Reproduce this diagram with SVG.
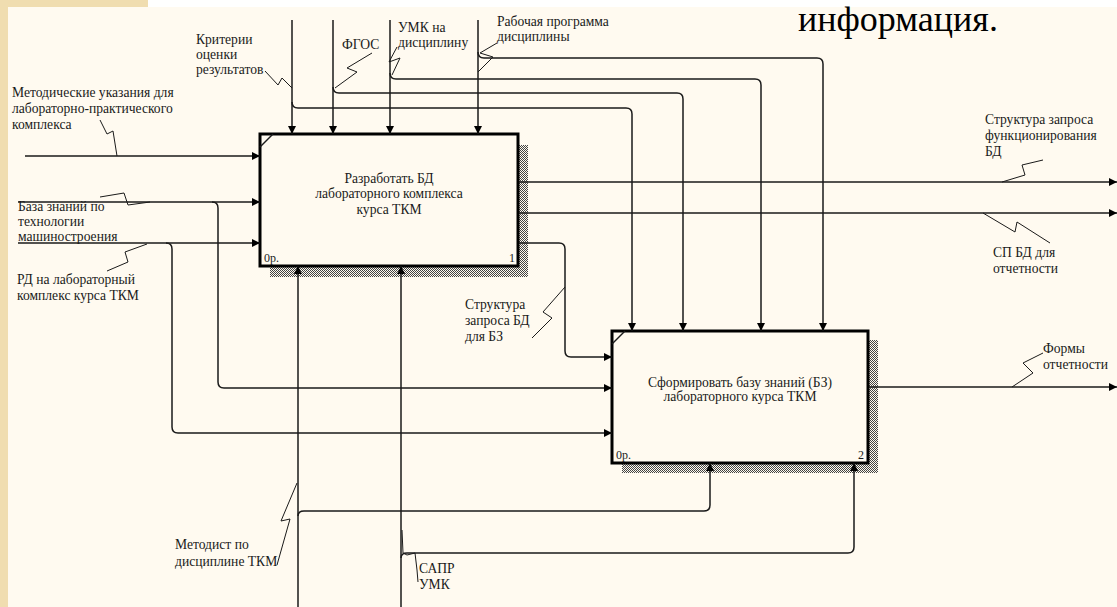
<svg xmlns="http://www.w3.org/2000/svg" width="1117" height="607" viewBox="0 0 1117 607">
<style>
.bg{fill:#fffaf0}
.ln{fill:none;stroke:#1a1a1a;stroke-width:1.5}
.sq{fill:none;stroke:#1a1a1a;stroke-width:1}
.box{fill:#fffaf0;stroke:#000;stroke-width:3}
.t{font-family:"Liberation Serif","Times New Roman",serif;font-size:13.6px;fill:#1a1a1a}
.c{text-anchor:middle}
.s{font-size:12px}
.big{font-family:"Liberation Serif","Times New Roman",serif;font-size:36px;fill:#000}
</style>
<defs>
<pattern id="hatch" width="2" height="2" patternUnits="userSpaceOnUse">
<rect width="2" height="2" fill="#fffaf0"/>
<rect width="1" height="1" fill="#444"/>
<rect x="1" y="1" width="1" height="1" fill="#444"/>
</pattern>
<marker id="ar" viewBox="0 0 10 10" refX="10" refY="5" markerWidth="9" markerHeight="8" markerUnits="userSpaceOnUse" orient="auto">
<path d="M0,0 L10,5 L0,10 Z" fill="#000"/>
</marker>
</defs>
<rect x="0" y="0" width="1117" height="607" fill="#ffffff"/>
<rect x="0" y="7" width="1117" height="600" class="bg"/>
<rect x="0" y="0" width="8" height="607" fill="#f0ddb0"/>
<rect x="0" y="0" width="148" height="7" fill="#f0ddb0"/>
<text class="big" x="798" y="31">информация.</text>

<g id="node1">
<rect x="518" y="145" width="10" height="131" fill="url(#hatch)"/>
<rect x="270" y="266" width="258" height="11" fill="url(#hatch)"/>
<rect class="box" x="260" y="134" width="258" height="132"/>
<path class="ln" d="M260,147 L273,134"/>
<text class="t c" x="389" y="183">Разработать БД</text>
<text class="t c" x="389" y="198">лабораторного комплекса</text>
<text class="t c" x="389" y="214">курса ТКМ</text>
<text class="t s" x="264" y="262">0р.</text>
<text class="t s" x="509" y="262">1</text>
</g>

<g id="node2">
<rect x="868" y="340" width="10" height="133" fill="url(#hatch)"/>
<rect x="622" y="463" width="256" height="10" fill="url(#hatch)"/>
<rect class="box" x="612" y="331" width="256" height="132"/>
<path class="ln" d="M612,344 L625,331"/>
<text class="t c" x="740" y="387">Сформировать базу знаний (БЗ)</text>
<text class="t c" x="740" y="401">лабораторного курса ТКМ</text>
<text class="t s" x="616" y="459">0р.</text>
<text class="t s" x="858" y="459">2</text>
</g>

<g id="connectors">
<path class="ln" d="M292,20 V134" marker-end="url(#ar)"/>
<path class="ln" d="M292,102 Q292,108 298,108 H626 Q632,108 632,114 V331" marker-end="url(#ar)"/>
<path class="ln" d="M333,20 V134" marker-end="url(#ar)"/>
<path class="ln" d="M333,87 Q333,93 339,93 H677 Q683,93 683,99 V331" marker-end="url(#ar)"/>
<path class="ln" d="M390,20 V134" marker-end="url(#ar)"/>
<path class="ln" d="M390,73 Q390,79 396,79 H755 Q761,79 761,85 V331" marker-end="url(#ar)"/>
<path class="ln" d="M478,20 V134" marker-end="url(#ar)"/>
<path class="ln" d="M478,52 Q478,58 484,58 H817 Q823,58 823,64 V331" marker-end="url(#ar)"/>
<path class="ln" d="M25,156 H260" marker-end="url(#ar)"/>
<path class="ln" d="M18,202 H260" marker-end="url(#ar)"/>
<path class="ln" d="M212,202 Q218,202 218,208 V382 Q218,388 224,388 H612" marker-end="url(#ar)"/>
<path class="ln" d="M18,243 H260" marker-end="url(#ar)"/>
<path class="ln" d="M166,243 Q172,243 172,249 V427 Q172,433 178,433 H612" marker-end="url(#ar)"/>
<path class="ln" d="M519,182 H1117" marker-end="url(#ar)"/>
<path class="ln" d="M519,213 H1117" marker-end="url(#ar)"/>
<path class="ln" d="M519,243 H559 Q565,243 565,249 V351 Q565,357 571,357 H612" marker-end="url(#ar)"/>
<path class="ln" d="M869,387 H1117" marker-end="url(#ar)"/>
<path class="ln" d="M298,607 V266" marker-end="url(#ar)"/>
<path class="ln" d="M401,607 V266" marker-end="url(#ar)"/>
<path class="ln" d="M298,516 Q298,511 304,511 H704 Q710,511 710,505 V463" marker-end="url(#ar)"/>
<path class="ln" d="M401,558 Q401,553 407,553 H848 Q854,553 854,547 V463" marker-end="url(#ar)"/>
<path class="sq" d="M265,71 L278,85 L282,78 L292,88"/>
<path class="sq" d="M372,53 L347,68 L357,72 L335,88"/>
<path class="sq" d="M397,47 L389,62 L400,58 L392,75"/>
<path class="sq" d="M497,43 L480,53 L493,57 L478,72"/>
<path class="sq" d="M100,120 L107,134 L113,131 L117,156"/>
<path class="sq" d="M100,197 L124,193 L128,205 L150,202"/>
<path class="sq" d="M147,244 L125,252 L128,262 L107,271"/>
<path class="sq" d="M532,338 L552,318 L543,312 L565,287"/>
<path class="sq" d="M1043,160 L1022,165 L1025,175 L1002,182"/>
<path class="sq" d="M983,213 L1015,232 L1017,222 L1050,243"/>
<path class="sq" d="M1043,353 L1023,363 L1033,373 L1012,387"/>
<path class="sq" d="M277,565 L290,519 L281,521 L297,483"/>
<path class="sq" d="M402,530 L403,553 L407,555 L415,553 L417,570 L418,582"/>
</g>

<g id="labels">
<text class="t" x="196" y="44">Критерии</text>
<text class="t" x="196" y="59">оценки</text>
<text class="t" x="196" y="74">результатов</text>
<text class="t" x="342" y="49">ФГОС</text>
<text class="t" x="398" y="32">УМК на</text>
<text class="t" x="398" y="47">дисциплину</text>
<text class="t" x="497" y="26">Рабочая программа</text>
<text class="t" x="497" y="41">дисциплины</text>
<text class="t" x="12" y="97">Методические указания для</text>
<text class="t" x="12" y="113">лабораторно-практического</text>
<text class="t" x="12" y="129">комплекса</text>
<text class="t" x="18" y="211">База знаний по</text>
<text class="t" x="18" y="226">технологии</text>
<text class="t" x="18" y="241">машиностроения</text>
<text class="t" x="17" y="284">РД на лабораторный</text>
<text class="t" x="17" y="300">комплекс курса ТКМ</text>
<text class="t" x="465" y="309">Структура</text>
<text class="t" x="465" y="325">запроса БД</text>
<text class="t" x="465" y="341">для БЗ</text>
<text class="t" x="985" y="124">Структура запроса</text>
<text class="t" x="985" y="140">функционирования</text>
<text class="t" x="985" y="156">БД</text>
<text class="t" x="993" y="257">СП БД для</text>
<text class="t" x="993" y="273">отчетности</text>
<text class="t" x="1043" y="353">Формы</text>
<text class="t" x="1043" y="369">отчетности</text>
<text class="t" x="175" y="549">Методист по</text>
<text class="t" x="175" y="566">дисциплине ТКМ</text>
<text class="t" x="419" y="573">САПР</text>
<text class="t" x="419" y="589">УМК</text>
</g>
</svg>
